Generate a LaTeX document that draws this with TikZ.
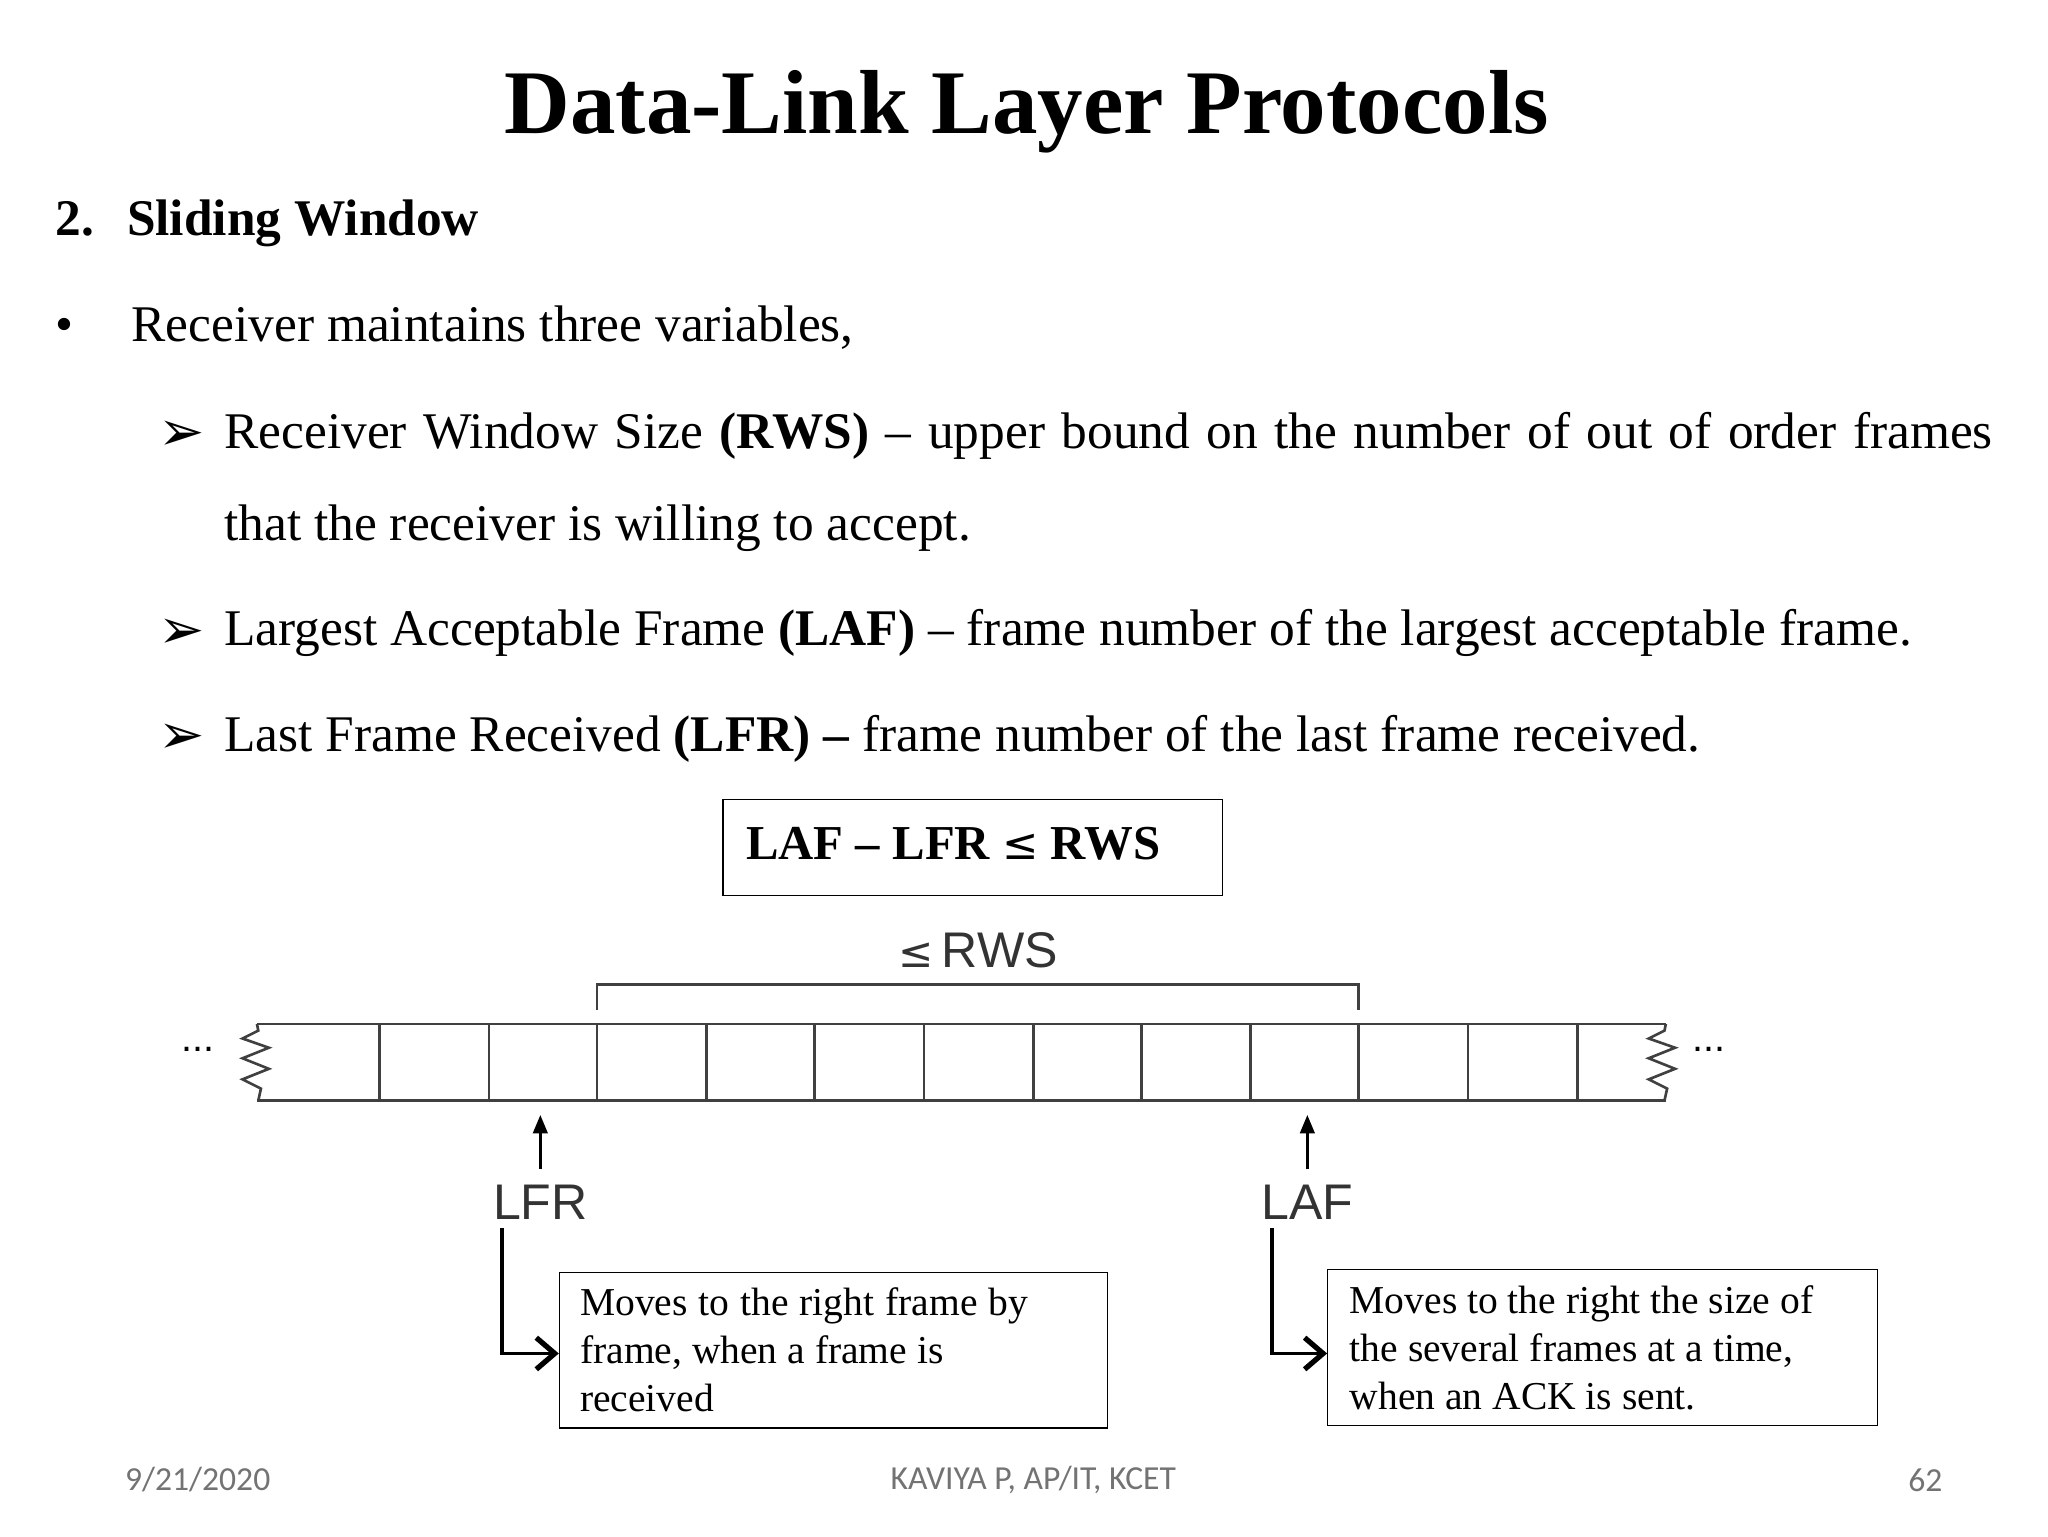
\documentclass[tikz,border=0pt]{standalone}
\usepackage{fontspec}
\setmainfont{Liberation Serif}
\newfontfamily\diafont{Liberation Sans}
\newfontfamily\footfont{Carlito}
\newfontfamily\symfont{DejaVu Sans}
\usetikzlibrary{arrows.meta}
\begin{document}
\begin{tikzpicture}[x=1pt,y=-1pt,
  txt/.style={anchor=base west,inner sep=0pt,font=\fontsize{39}{44}\selectfont},
  arr/.style={anchor=base west,inner sep=0pt,font=\symfont\fontsize{42}{44}\selectfont},
  cellline/.style={line width=2pt,draw=black!75},
  dia/.style={font=\diafont\fontsize{38}{40}\selectfont,text=black!80},
  foot/.style={font=\footfont\fontsize{25.5}{28}\selectfont,text=black!55},
  uparrow/.style={line width=2.2pt,-{Triangle[length=14pt,width=11pt]}},
  elbow/.style={line width=3pt,-{Straight Barb[length=14pt,width=24pt,line width=4pt]}},
  notebox/.style={draw,line width=1pt,anchor=north west,minimum height=118pt,inner sep=0pt},
  notetext/.style={anchor=north west,inner sep=0pt,align=left,font=\fontsize{30}{36.5}\selectfont}]
\useasboundingbox (0,0) rectangle (1554,1166);
\node (title) at (779,85) {\fontsize{69}{74}\selectfont\bfseries Data-Link Layer Protocols};
\node[txt] (h) at (42,179) {\textbf{2.}\hspace{25pt}\textbf{Sliding Window}};
\node[txt] (b1) at (42,259) {\textbullet\hspace{44pt}Receiver maintains three variables,};
\node[arr] (a1) at (120,342) {➢};
\node[txt] (t1) at (170,340) {\makebox[1342pt][s]{Receiver Window Size \textbf{(RWS)} -- upper bound on the number of out of order frames}};
\node[txt] (t1b) at (170,410) {that the receiver is willing to accept.};
\node[arr] (a2) at (120,492) {➢};
\node[txt] (t2) at (170,490) {Largest Acceptable Frame \textbf{(LAF)} -- frame number of the largest acceptable frame.};
\node[arr] (a3) at (120,572) {➢};
\node[txt] (t3) at (170,570) {Last Frame Received \textbf{(LFR) --} frame number of the last frame received.};
\node[draw,line width=1pt,minimum width=379pt,minimum height=73pt,anchor=north west] (f) at (548,606) {};
\node[txt,font=\fontsize{37}{40}\selectfont] (ft) at (566,652) {\textbf{LAF -- LFR {\symfont\mdseries\fontsize{33}{36}\selectfont≤} RWS}};
% strip
\draw[cellline] (195,777) -- (1264,777);
\draw[cellline] (195,835) -- (1264,835);
\draw[cellline] (195,777) -- (196,782) -- (184,788) -- (204,795) -- (184,803) -- (204,811) -- (184,819) -- (198,826) -- (196,835);
\draw[cellline] (1264,777) -- (1263,782) -- (1251,788) -- (1271,795) -- (1251,803) -- (1271,811) -- (1251,819) -- (1265,826) -- (1263,835);
\foreach \x in {288,371,453,536,618,701,784,866,949,1031,1114,1197}
  \draw[cellline] (\x,777) -- (\x,835);
\node[font=\diafont\fontsize{30}{30}\selectfont] (dl) at (150,796) {...};
\node[font=\diafont\fontsize{30}{30}\selectfont] (dr) at (1297,796) {...};
\draw[cellline] (453,766) -- (453,747) -- (1031,747) -- (1031,766);
\node[dia] (rws) at (742,721) {{\symfont\fontsize{32}{36}\selectfont ≤}\,RWS};
\node[dia] (lfr) at (410,912) {LFR};
\node[dia] (laf) at (992,912) {LAF};
\coordinate (lfrtip) at (410,846);
\coordinate (laftip) at (992,846);
\draw[uparrow] (410,887) -- (lfrtip);
\draw[uparrow] (992,887) -- (laftip);
\node[notebox,minimum width=416pt] (n1) at (424,965) {};
\node[notebox,minimum width=417pt] (n2) at (1007,963) {};
\node[notetext] (n1t) at (440,977) {\makebox[340pt][s]{Moves to the right frame by}\\frame, when a frame is\\received};
\node[notetext] (n2t) at (1024,975) {Moves to the right the size of\\the several frames at a time,\\when an ACK is sent.};
\coordinate (e1) at (381,932);
\coordinate (e2) at (965,932);
\draw[elbow] (e1) |- (n1.west |- 0,1027);
\draw[elbow] (e2) |- (n2.west |- 0,1027);
\node[foot] (d) at (150,1123) {9/21/2020};
\node[foot] (k) at (784,1123) {KAVIYA P, AP/IT, KCET};
\node[foot] (p) at (1461,1123) {62};
\end{tikzpicture}
\end{document}
